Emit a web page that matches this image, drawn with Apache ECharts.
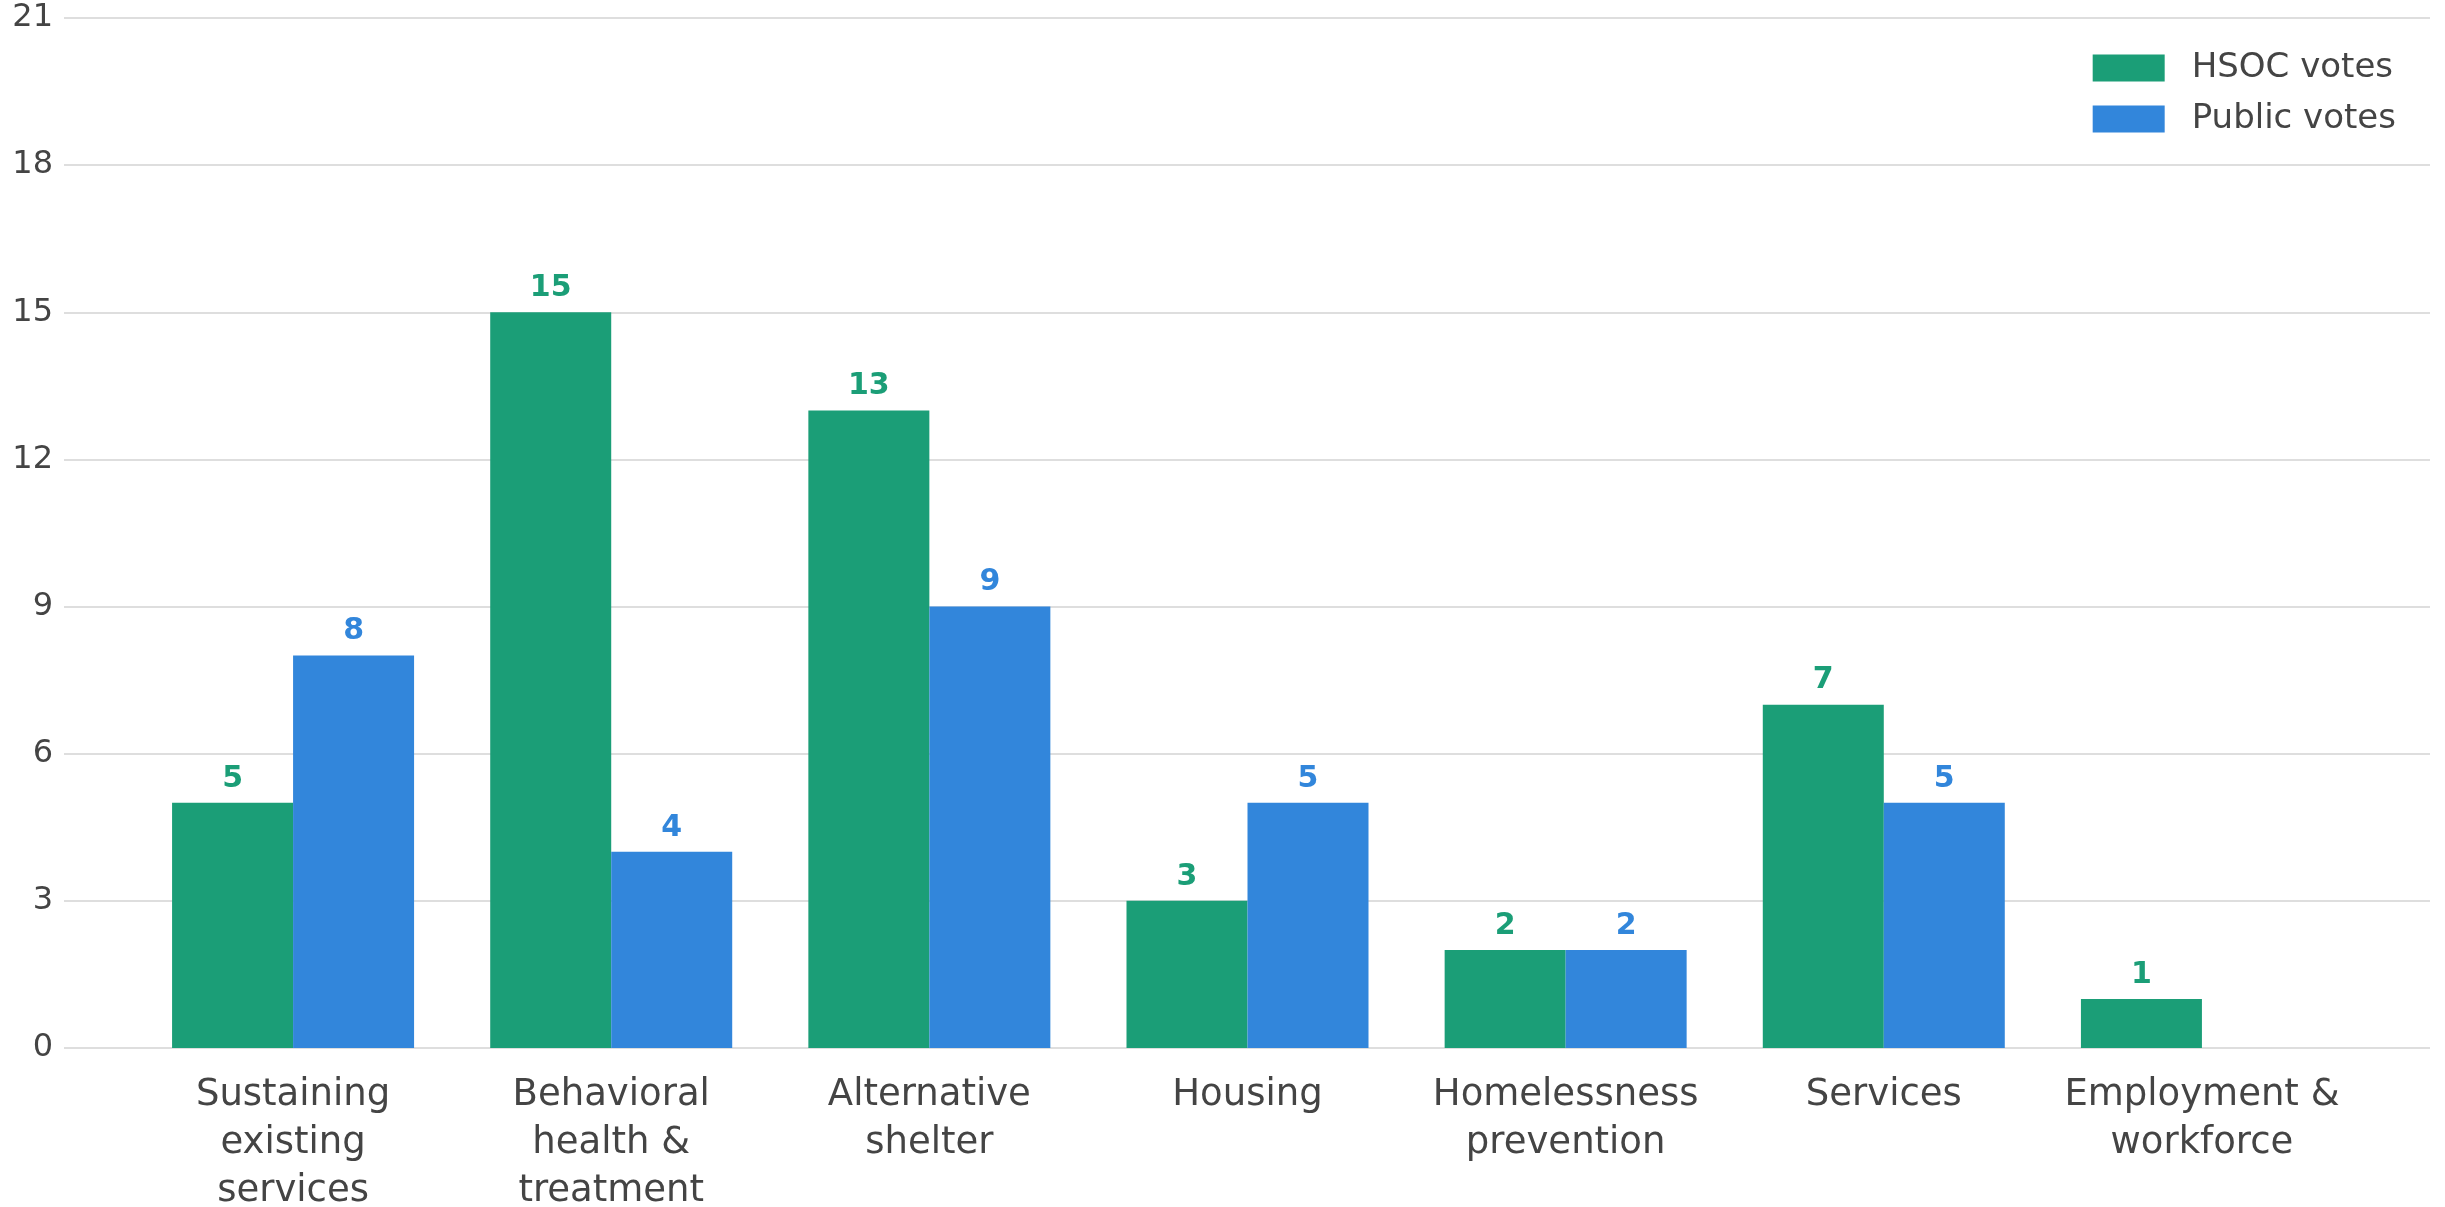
<!DOCTYPE html>
<html>
<head>
<meta charset="utf-8">
<script src="https://cdn.jsdelivr.net/npm/echarts@6/dist/echarts.min.js"></script>
<style>
  html, body { margin: 0; padding: 0; background: #ffffff; }
  #chart { width: 2445px; height: 1207px; }
</style>
</head>
<body>
<div id="chart"></div>
<script>
// Priority categories and vote counts
const categories = [
  'Sustaining\nexisting\nservices',
  'Behavioral\nhealth &\ntreatment',
  'Alternative\nshelter',
  'Housing',
  'Homelessness\nprevention',
  'Services',
  'Employment &\nworkforce'
];
const hsocVotes = [5, 15, 13, 3, 2, 7, 1];
const publicVotes = [8, 4, 9, 5, 2, 5, 0];
const yTicks = { min: 0, max: 21, interval: 3 };

const FONT = 'DejaVu Sans';
const TEXT = '#444444';
const GREEN = '#1b9e77';
const BLUE = '#3286db';

const chart = echarts.init(document.getElementById('chart'), null, { renderer: 'canvas' });

function valueLabel(color) {
  return {
    show: true,
    position: 'top',
    distance: 9,
    fontFamily: FONT,
    fontSize: 30,
    fontWeight: 'bold',
    color: color,
    formatter: p => (p.value === 0 ? '' : String(p.value))
  };
}

chart.setOption({
  animation: false,
  backgroundColor: '#ffffff',
  textStyle: { fontFamily: FONT },
  grid: [
    // value scale and gridlines across the full width
    { left: 64, right: 15, top: 18, bottom: 159, outerBoundsMode: 'none', containLabel: false },
    // category bands for the bars
    { left: 134, right: 84, top: 18, bottom: 159, outerBoundsMode: 'none', containLabel: false }
  ],
  legend: {
    orient: 'vertical',
    right: 44,
    top: 46,
    itemWidth: 72,
    itemHeight: 27,
    itemGap: 17,
    align: 'left',
    icon: 'rect',
    textStyle: {
      fontFamily: FONT,
      fontSize: 34,
      color: TEXT,
      lineHeight: 27,
      padding: [0, 0, 0, 22]
    },
    data: ['HSOC votes', 'Public votes']
  },
  xAxis: [
    {
      gridIndex: 0,
      type: 'category',
      data: categories,
      show: false
    },
    {
      gridIndex: 1,
      type: 'category',
      data: categories,
      axisLine: { show: false },
      axisTick: { show: false },
      axisLabel: {
        interval: 0,
        margin: 23,
        fontFamily: FONT,
        fontSize: 37,
        lineHeight: 48,
        color: TEXT
      }
    }
  ],
  yAxis: [
    {
      gridIndex: 0,
      type: 'value',
      min: yTicks.min,
      max: yTicks.max,
      interval: yTicks.interval,
      axisLine: { show: false },
      axisTick: { show: false },
      axisLabel: {
        margin: 11,
        fontFamily: FONT,
        fontSize: 32,
        color: TEXT
      },
      splitLine: { lineStyle: { color: '#dedede', width: 2 } }
    },
    {
      gridIndex: 1,
      type: 'value',
      min: yTicks.min,
      max: yTicks.max,
      interval: yTicks.interval,
      show: false,
      splitLine: { show: false }
    }
  ],
  series: [
    {
      name: 'HSOC votes',
      type: 'bar',
      xAxisIndex: 1,
      yAxisIndex: 1,
      data: hsocVotes,
      barWidth: 121,
      barGap: '0%',
      itemStyle: { color: GREEN },
      label: valueLabel(GREEN)
    },
    {
      name: 'Public votes',
      type: 'bar',
      xAxisIndex: 1,
      yAxisIndex: 1,
      data: publicVotes,
      barWidth: 121,
      barGap: '0%',
      itemStyle: { color: BLUE },
      label: valueLabel(BLUE)
    }
  ]
});
</script>
</body>
</html>
